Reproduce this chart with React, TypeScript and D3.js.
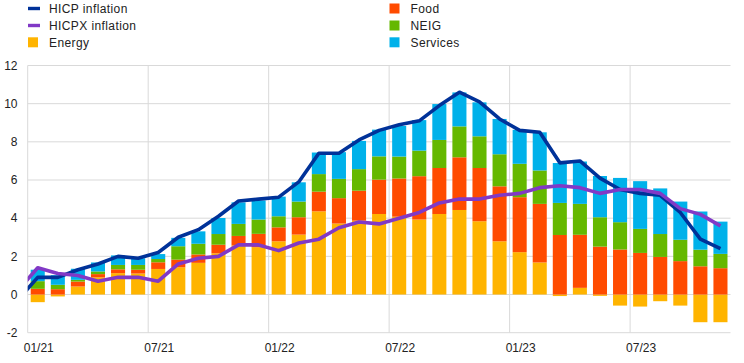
import React, { useEffect, useRef } from 'react'
import * as d3 from 'd3'

// months Jan 2021 - Nov 2023
const months = [
  '01/21', '02/21', '03/21', '04/21', '05/21', '06/21', '07/21', '08/21', '09/21', '10/21', '11/21', '12/21',
  '01/22', '02/22', '03/22', '04/22', '05/22', '06/22', '07/22', '08/22', '09/22', '10/22', '11/22', '12/22',
  '01/23', '02/23', '03/23', '04/23', '05/23', '06/23', '07/23', '08/23', '09/23', '10/23', '11/23'
]
const tickLabels = ['01/21', '07/21', '01/22', '07/22', '01/23', '07/23']

// contributions, percentage points
const energy = [
  -0.4, -0.1, 0.42, 0.9, 1.12, 1.1, 1.34, 1.43, 1.66, 2.16, 2.57, 2.48,
  2.79, 3.14, 4.36, 3.72, 3.87, 4.22, 4.08, 3.93, 4.22, 4.43, 3.84, 2.79,
  2.22, 1.68, -0.08, 0.35, -0.07, -0.58, -0.63, -0.35, -0.58, -1.45, -1.45
]
const food = [
  0.3, 0.28, 0.26, 0.17, 0.2, 0.2, 0.35, 0.4, 0.44, 0.45, 0.5, 0.7,
  0.73, 0.91, 1.03, 1.33, 1.57, 1.8, 2.0, 2.27, 2.41, 2.76, 2.79, 2.88,
  2.88, 3.07, 3.12, 2.78, 2.51, 2.36, 2.18, 1.97, 1.75, 1.48, 1.38
]
const neig = [
  0.4, 0.23, 0.09, 0.14, 0.23, 0.25, 0.17, 0.7, 0.56, 0.56, 0.63, 0.75,
  0.58, 0.82, 0.92, 1.01, 1.13, 1.22, 1.15, 1.34, 1.47, 1.62, 1.66, 1.68,
  1.75, 1.75, 1.68, 1.62, 1.54, 1.43, 1.26, 1.2, 1.12, 0.87, 0.75
]
const services = [
  0.6, 0.5, 0.58, 0.47, 0.5, 0.35, 0.26, 0.44, 0.65, 0.84, 1.13, 1.0,
  1.03, 1.01, 1.13, 1.4, 1.48, 1.4, 1.6, 1.6, 1.88, 1.78, 1.78, 1.85,
  1.78, 2.0, 2.09, 2.22, 2.16, 2.32, 2.5, 2.39, 2.0, 2.0, 1.69
]

// lines start one month earlier (12/20), clipped at the left edge
const hicp = [
  -0.3,
  0.9, 0.9, 1.3, 1.6, 2.0, 1.9, 2.2, 3.0, 3.4, 4.1, 4.9, 5.0,
  5.1, 5.9, 7.4, 7.4, 8.1, 8.6, 8.9, 9.1, 9.9, 10.6, 10.1, 9.2,
  8.6, 8.5, 6.9, 7.0, 6.1, 5.5, 5.3, 5.2, 4.3, 2.9, 2.4
]
const hicpx = [
  0.2,
  1.4, 1.1, 1.0, 0.7, 0.9, 0.9, 0.7, 1.6, 1.9, 2.0, 2.6, 2.6,
  2.3, 2.7, 2.9, 3.5, 3.8, 3.7, 4.0, 4.3, 4.8, 5.0, 5.0, 5.2,
  5.3, 5.6, 5.7, 5.6, 5.3, 5.5, 5.5, 5.3, 4.5, 4.2, 3.6
]

const yTicks = [-2, 0, 2, 4, 6, 8, 10, 12]

const colors = {
  hicp: '#003299',
  hicpx: '#8139c6',
  energy: '#ffb400',
  food: '#ff4b00',
  neig: '#65b800',
  services: '#00b1ea'
}

const font = '"Liberation Sans", Arial, sans-serif'

function InflationChart() {
  const ref = useRef<SVGSVGElement>(null)

  useEffect(() => {
    const svg = d3.select(ref.current)
    svg.selectAll('*').remove()

    const width = 744
    const height = 363
    const left = 27.7
    const right = 730.5

    const x = d3.scaleLinear().domain([0, months.length]).range([left, right])
    const step = x(1) - x(0)
    const barW = step * 0.7
    const y = d3.scaleLinear().domain([-2, 12]).range([332.7, 65.5])

    // gridlines
    svg.append('g')
      .selectAll('line')
      .data(yTicks)
      .enter()
      .append('line')
      .attr('x1', left)
      .attr('x2', right)
      .attr('y1', d => y(d))
      .attr('y2', d => y(d))
      .attr('stroke', '#d9d9d9')
      .attr('stroke-width', 1)

    const vIdx = tickLabels.map(t => months.indexOf(t))
    svg.append('g')
      .selectAll('line')
      .data(vIdx)
      .enter()
      .append('line')
      .attr('x1', d => x(d))
      .attr('x2', d => x(d))
      .attr('y1', y(12))
      .attr('y2', y(-2))
      .attr('stroke', '#d9d9d9')
      .attr('stroke-width', 1)

    // y labels
    svg.append('g')
      .selectAll('text')
      .data(yTicks)
      .enter()
      .append('text')
      .attr('x', 17.5)
      .attr('y', d => y(d))
      .attr('dy', '0.35em')
      .attr('text-anchor', 'end')
      .style('font-family', font)
      .style('font-size', '12px')
      .attr('fill', '#222')
      .text(d => d)

    // x labels
    svg.append('g')
      .selectAll('text')
      .data(vIdx)
      .enter()
      .append('text')
      .attr('x', d => x(d + 0.5) + 1)
      .attr('y', 352)
      .attr('text-anchor', 'middle')
      .style('font-family', font)
      .style('font-size', '12px')
      .attr('fill', '#222')
      .text((d, i) => tickLabels[i])

    // stacked bars
    const rows = months.map((m, i) => ({
      month: m,
      energy: energy[i],
      food: food[i],
      neig: neig[i],
      services: services[i]
    }))
    const keys = ['energy', 'food', 'neig', 'services']
    const stacked = d3.stack<any>()
      .keys(keys)
      .offset(d3.stackOffsetDiverging)(rows)

    svg.append('g')
      .selectAll('g')
      .data(stacked)
      .enter()
      .append('g')
      .attr('fill', d => (colors as any)[d.key])
      .selectAll('rect')
      .data(d => d)
      .enter()
      .append('rect')
      .attr('x', (d, i) => x(i + 0.5) - barW / 2)
      .attr('width', barW)
      .attr('y', d => y(Math.max(d[0], d[1])))
      .attr('height', d => Math.abs(y(d[0]) - y(d[1])))

    // lines
    svg.append('defs')
      .append('clipPath')
      .attr('id', 'plotClip')
      .append('rect')
      .attr('x', left)
      .attr('y', 0)
      .attr('width', right - left)
      .attr('height', height)

    const line = d3.line<number>()
      .x((d, i) => x(i - 1 + 0.5))
      .y(d => y(d))

    const lines = svg.append('g').attr('clip-path', 'url(#plotClip)')
    lines.append('path')
      .attr('d', line(hicp))
      .attr('fill', 'none')
      .attr('stroke', colors.hicp)
      .attr('stroke-width', 3.6)
      .attr('stroke-linejoin', 'round')
    lines.append('path')
      .attr('d', line(hicpx))
      .attr('fill', 'none')
      .attr('stroke', colors.hicpx)
      .attr('stroke-width', 3.6)
      .attr('stroke-linejoin', 'round')

    // legend
    const legend = [
      { label: 'HICP inflation', color: colors.hicp, type: 'line', x: 28, y: 8.5 },
      { label: 'HICPX inflation', color: colors.hicpx, type: 'line', x: 28, y: 25.5 },
      { label: 'Energy', color: colors.energy, type: 'box', x: 28, y: 42.3 },
      { label: 'Food', color: colors.food, type: 'box', x: 389.5, y: 8.5 },
      { label: 'NEIG', color: colors.neig, type: 'box', x: 389.5, y: 25.5 },
      { label: 'Services', color: colors.services, type: 'box', x: 389.5, y: 42.3 }
    ]
    const lg = svg.append('g')
      .selectAll('g')
      .data(legend)
      .enter()
      .append('g')
    lg.append('rect')
      .attr('x', d => d.x)
      .attr('y', d => (d.type === 'line' ? d.y - 1.7 : d.y - 5))
      .attr('width', d => (d.type === 'line' ? 12 : 10))
      .attr('height', d => (d.type === 'line' ? 3.4 : 10))
      .attr('fill', d => d.color)
    lg.append('text')
      .attr('x', d => d.x + 21)
      .attr('y', d => d.y)
      .attr('dy', '0.35em')
      .style('font-family', font)
      .style('font-size', '12px')
      .style('letter-spacing', '0.4px')
      .attr('fill', '#222')
      .text(d => d.label)

    svg.attr('width', width).attr('height', height)
  }, [])

  return (
    <svg
      ref={ref}
      width={744}
      height={363}
      style={{ position: 'absolute', left: 0, top: 0, background: '#fff' }}
    />
  )
}

export default function App() {
  return <InflationChart />
}
